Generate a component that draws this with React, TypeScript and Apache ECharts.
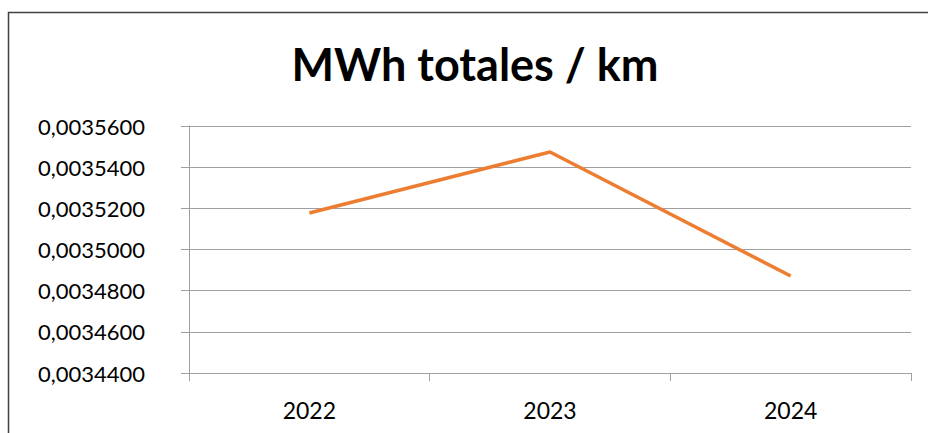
import React, { useEffect, useRef } from "react";
import * as echarts from "echarts";

const categories = ["2022", "2023", "2024"];
const values = [0.0035177, 0.0035474, 0.0034871];
const yMin = 0.00344;
const yMax = 0.00356;
const yStep = 0.00002;
const title = "MWh totales / km";

export default function App() {
  const ref = useRef<HTMLDivElement>(null);
  useEffect(() => {
    const chart = echarts.init(ref.current!, undefined, { renderer: "svg" });
    const font = "Lato, 'Open Sans', sans-serif";
    chart.setOption({
      animation: false,
      backgroundColor: "#ffffff",
      title: {
        text: title,
        left: 470,
        textAlign: "center",
        top: 36,
        textStyle: { fontFamily: font, fontSize: 45, fontWeight: "bold", color: "#000" },
      },
      graphic: [
        {
          type: "rect",
          shape: { x: 8.5, y: 12.5, width: 960, height: 460 },
          style: { fill: "none", stroke: "#404040", lineWidth: 1.5 },
          silent: true,
        },
      ],
      grid: { left: 189, right: 17, top: 126, bottom: 60 },
      xAxis: {
        type: "category",
        data: categories,
        boundaryGap: true,
        axisLine: { show: true, lineStyle: { color: "#A0A0A0", width: 1 } },
        axisTick: { show: true, alignWithLabel: false, length: 8, lineStyle: { color: "#A0A0A0" } },
        axisLabel: { margin: 25, fontFamily: font, fontSize: 23, color: "#000" },
        splitLine: { show: false },
      },
      yAxis: {
        type: "value",
        min: yMin,
        max: yMax,
        interval: yStep,
        axisLine: { show: true, lineStyle: { color: "#A0A0A0", width: 1 } },
        axisTick: { show: true, inside: false, length: 8, lineStyle: { color: "#A0A0A0" } },
        axisLabel: {
          margin: 44,
          fontFamily: font,
          fontSize: 22,
          color: "#000",
          formatter: (v: number) => v.toFixed(7).replace(".", ","),
        },
        splitLine: { show: true, lineStyle: { color: "#A0A0A0", width: 1 } },
      },
      series: [
        {
          type: "line",
          data: values,
          showSymbol: false,
          symbol: "none",
          lineStyle: { color: "#ED7D31", width: 3.5 },
          itemStyle: { color: "#ED7D31" },
        },
      ],
    });
    return () => chart.dispose();
  }, []);
  return (
    <div
      ref={ref}
      style={{ position: "fixed", left: 0, top: 0, width: 928, height: 433 }}
    />
  );
}
